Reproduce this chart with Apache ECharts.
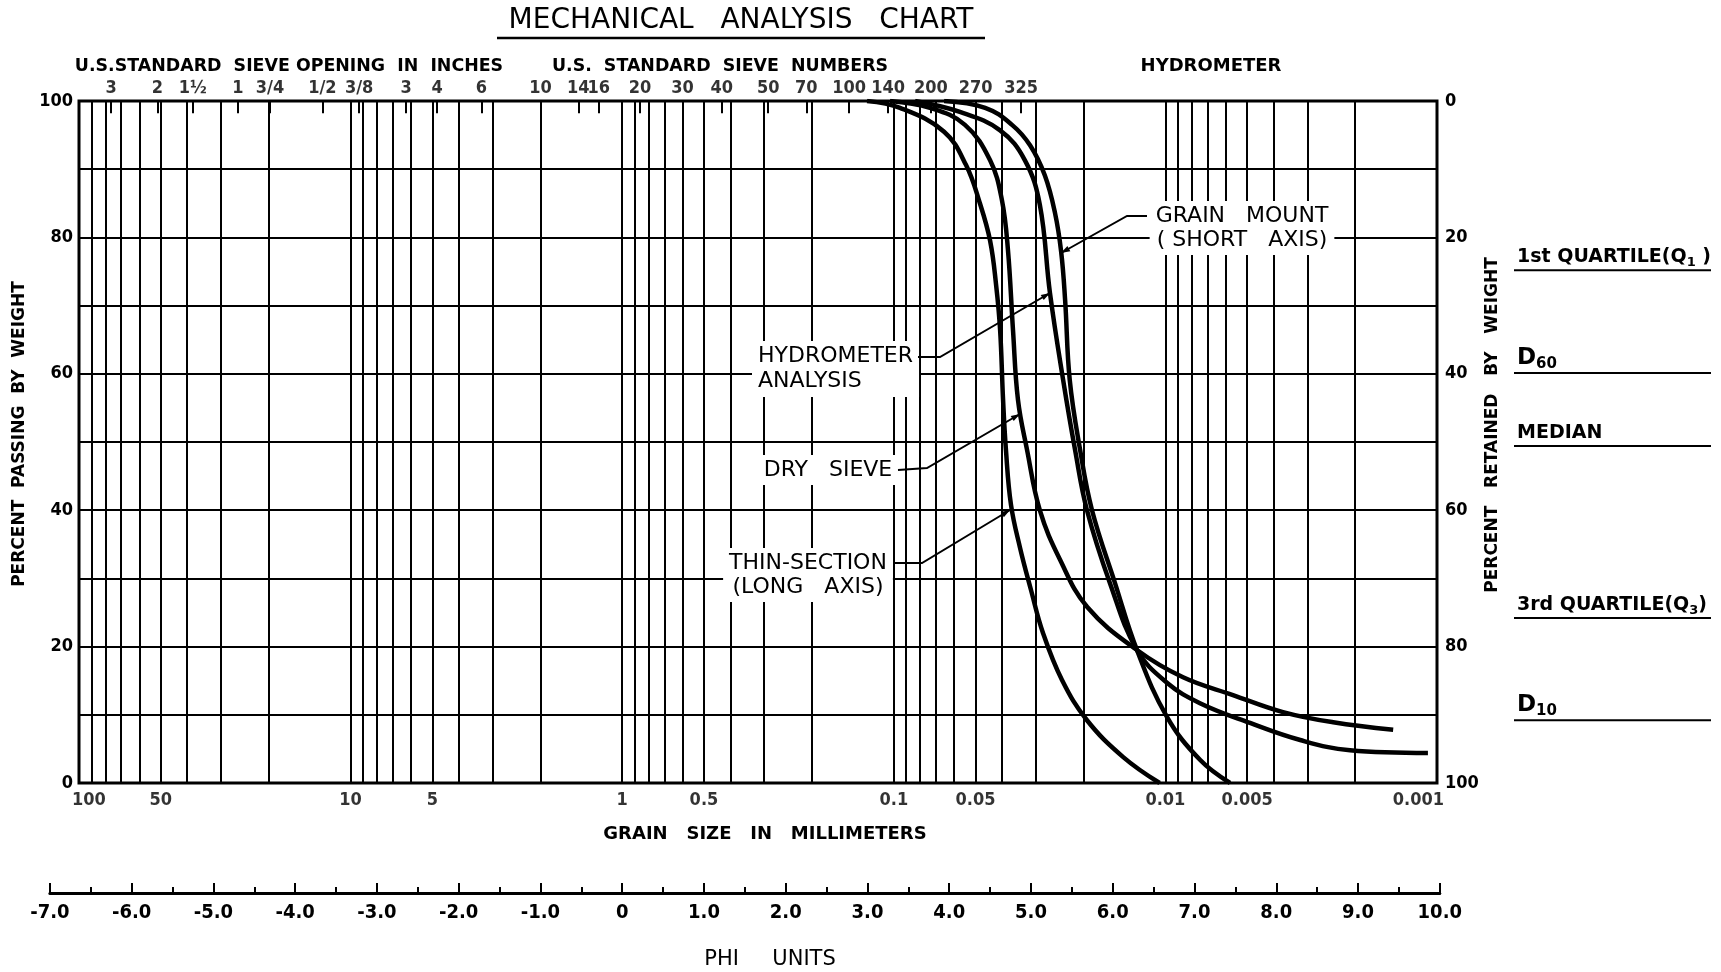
<!DOCTYPE html>
<html>
<head>
<meta charset="utf-8">
<script src="https://cdn.jsdelivr.net/npm/echarts@6/dist/echarts.min.js"></script>
<style>html,body{margin:0;padding:0;background:#fff}#c{width:1721px;height:972px}</style>
</head>
<body>
<div id="c"></div>
<script>
// ---------- data (grain size in mm, percent passing by weight) ----------
const sizeLabelsMm = [100, 50, 10, 5, 1, 0.5, 0.1, 0.05, 0.01, 0.005, 0.001];
const sieveLabels = ['3','2','1½','1','3/4','1/2','3/8','3','4','6','10','14','16','20','30','40','50','70','100','140','200','270','325'];
const sieveMm     = [76.2, 51.5, 38.1, 26, 19.8, 12.7, 9.3, 6.25, 4.8, 3.3, 2.0, 1.45, 1.22, 0.86, 0.6, 0.43, 0.29, 0.21, 0.146, 0.105, 0.073, 0.050, 0.034];
const gridMm = [90,80,70,60,50,40,30,20,10,9,8,7,6,5,4,3,2,1,0.9,0.8,0.7,0.6,0.5,0.4,0.3,0.2,
                0.1,0.09,0.08,0.07,0.06,0.05,0.04,0.03,0.02,0.01,0.009,0.008,0.007,0.006,0.005,0.004,0.003,0.002];
const pctTicks = [0, 20, 40, 60, 80, 100];
const statNames = ['1st QUARTILE(Q{s|1} )', 'D{s|60}', 'MEDIAN', '3rd QUARTILE(Q{s|3})', 'D{s|10}'];
const statRetained = [24.8, 39.9, 50.6, 75.8, 90.8];   // percent retained where each blank line sits

const thinSection = [[0.1255,100],[0.0949,99.0],[0.0653,95.5],[0.0542,90.6],[0.0482,85.0],[0.0442,79.5],
  [0.0420,73.0],[0.0406,66.4],[0.0396,56.2],[0.03864,48.8],[0.03703,40.8],[0.0343,34.5],[0.03125,28.3],
  [0.02823,22.0],[0.02403,15.1],[0.01944,9.2],[0.0143,3.8],[0.0105,0]];
const drySieve = [[0.1033,100],[0.0736,99.0],[0.0547,96.5],[0.0442,91.3],[0.0400,85.5],[0.0380,78.2],
  [0.0364,66.4],[0.0349,56.2],[0.0323,48.8],[0.0290,40.0],[0.0244,32.7],[0.0194,25.8],[0.01273,19.5],
  [0.00861,15.5],[0.00564,12.9],[0.00369,10.4],[0.00241,8.9],[0.00145,7.8]];
const hydrometer = [[0.0835,100],[0.0571,98.4],[0.0406,95.7],[0.0329,91.3],[0.0290,84.8],[0.0266,71.8],
  [0.0238,59.1],[0.0215,48.8],[0.01944,40.0],[0.0160,29.3],[0.01273,19.5],[0.00987,14.7],[0.00746,11.7],
  [0.00488,8.8],[0.00319,6.3],[0.00209,4.8],[0.00108,4.4]];
const grainMount = [[0.0653,100],[0.0461,99.0],[0.0367,96.5],[0.0315,93.5],[0.0278,89.1],[0.0255,83.6],
  [0.0242,77.9],[0.0234,70.8],[0.0225,59.1],[0.0206,48.8],[0.01863,40.0],[0.01533,29.3],[0.01273,19.5],
  [0.00987,9.7],[0.00746,3.4],[0.00578,0]];

// ---------- layout ----------
const W = 1721, H = 972;
const PL = 79, PR = 1437, PT = 101, PB = 783;
const DEC = (PR - PL) / 5;                               // px per decade
const phiX = p => PL + (2 + p * Math.log10(2)) * DEC;   // phi = -log2(mm)
const NUM = '"DejaVu Sans Condensed", "DejaVu Sans", sans-serif';
const WORD = '"DejaVu Sans", sans-serif';

const chart = echarts.init(document.getElementById('c'), null, {width: W, height: H});

function txt(text, x, y, o) {
  return {type: 'text', z: 50, x: x, y: y, rotation: (o && o.rot) || 0,
    style: Object.assign({text: text, x: 0, y: 0, fill: '#000', fontFamily: WORD, fontSize: 17,
      fontWeight: 'bold', align: 'center', textAlign: 'center', verticalAlign: 'middle',
      textVerticalAlign: 'middle'}, o || {})};
}
function seg(x1, y1, x2, y2, w) {
  return {type: 'line', z: 50, shape: {x1, y1, x2, y2}, style: {stroke: '#000', lineWidth: w || 2}};
}
function leader(points) {
  // polyline plus a small arrowhead at the last point
  const a = points[points.length - 2], b = points[points.length - 1];
  const dx = b[0] - a[0], dy = b[1] - a[1], L = Math.hypot(dx, dy), ux = dx / L, uy = dy / L;
  const bx = b[0] - ux * 9, by = b[1] - uy * 9;
  return [
    {type: 'polyline', z: 50, shape: {points}, style: {stroke: '#000', lineWidth: 2, fill: null}},
    {type: 'polygon', z: 50, shape: {points: [b, [bx - uy * 3, by + ux * 3], [bx + uy * 3, by - ux * 3]]},
     style: {fill: '#000'}}
  ];
}
const boxed = {backgroundColor: '#fff', padding: [3, 6], fontWeight: 'normal', fontSize: 22, lineHeight: 24};

const curve = (name, data) => ({
  type: 'line', name, data, xAxisIndex: 0, yAxisIndex: 0, smooth: 0.4, symbol: 'none',
  lineStyle: {color: '#000', width: 4.5}, z: 5, silent: true
});

const option = {
  animation: false,
  backgroundColor: '#fff',
  grid: [
    {left: PL, top: PT, width: PR - PL, height: PB - PT, show: true, borderColor: '#000', borderWidth: 3, backgroundColor: 'transparent'},
    {left: phiX(-7), width: phiX(10) - phiX(-7), top: 892, height: 1}
  ],
  xAxis: [
    {type: 'log', logBase: 10, min: 0.001, max: 100, inverse: true, gridIndex: 0,
     axisLine: {show: false}, axisTick: {show: false}, axisLabel: {show: false}, splitLine: {show: false}},
    {type: 'value', gridIndex: 1, min: -7, max: 10, interval: 1, position: 'bottom',
     axisLine: {show: true, lineStyle: {color: '#000', width: 3}},
     axisTick: {show: true, inside: true, length: 10, lineStyle: {color: '#000', width: 2}},
     minorTick: {show: true, splitNumber: 2, length: 6, lineStyle: {color: '#000', width: 2}},
     splitLine: {show: false},
     axisLabel: {margin: 10, color: '#000', fontFamily: NUM, fontSize: 20, fontWeight: 'bold',
       formatter: v => v === 0 ? '0' : v.toFixed(1)}}
  ],
  yAxis: [
    {type: 'value', gridIndex: 0, min: 0, max: 100, interval: 10, position: 'left',
     axisLine: {show: false}, axisTick: {show: false},
     splitLine: {show: true, lineStyle: {color: '#000', width: 2}},
     axisLabel: {margin: 6, color: '#000', fontFamily: NUM, fontSize: 18, fontWeight: 'bold',
       formatter: v => pctTicks.indexOf(v) >= 0 ? String(v) : ''}},
    {type: 'value', gridIndex: 0, min: 0, max: 100, interval: 20, position: 'right', inverse: true,
     axisLine: {show: false}, axisTick: {show: false}, splitLine: {show: false},
     axisLabel: {margin: 8, color: '#000', fontFamily: NUM, fontSize: 18, fontWeight: 'bold'}},
    {type: 'value', gridIndex: 1, min: 0, max: 1, show: false}
  ],
  series: [
    // vertical grid lines and bottom grain size labels
    {type: 'scatter', xAxisIndex: 0, yAxisIndex: 0, clip: false, silent: true, symbolSize: 1,
     itemStyle: {color: 'rgba(0,0,0,0)'},
     data: sizeLabelsMm.map((d, i) => {
       const it = {value: [d, 0]};
       if (i === 0) it.label = {align: 'left', offset: [-7, 0]};
       if (i === sizeLabelsMm.length - 1) it.label = {align: 'right', offset: [7, 0]};
       return it;
     }),
     label: {show: true, position: 'bottom', distance: 8, color: '#000', fontFamily: NUM,
       fontSize: 18, fontWeight: 'bold', formatter: p => String(p.value[0])},
     markLine: {silent: true, precision: 10, symbol: ['none', 'none'], label: {show: false},
       lineStyle: {color: '#000', width: 2, type: 'solid'},
       data: gridMm.map(v => [{coord: [v, 0]}, {coord: [v, 100]}])}
    },
    // sieve ticks and labels on top
    {type: 'scatter', xAxisIndex: 0, yAxisIndex: 0, clip: false, silent: true, symbolSize: 1,
     itemStyle: {color: 'rgba(0,0,0,0)'},
     data: sieveMm.map((d, i) => ({value: [d, 100], name: sieveLabels[i]})),
     label: {show: true, position: 'top', distance: 3, color: '#000', fontFamily: NUM,
       fontSize: 18, fontWeight: 'bold', formatter: p => p.name},
     markLine: {silent: true, precision: 10, symbol: ['none', 'none'], label: {show: false},
       lineStyle: {color: '#000', width: 2, type: 'solid'},
       data: sieveMm.map(d => [{coord: [d, 100]}, {coord: [d, 98.2]}])}
    },
    curve('Thin-section (long axis)', thinSection),
    curve('Dry sieve', drySieve),
    curve('Hydrometer analysis', hydrometer),
    curve('Grain mount (short axis)', grainMount)
  ]
};
chart.setOption(option);

// statistic blanks on the right, placed on the percent-retained scale
const statGraphics = [];
statRetained.forEach((v, i) => {
  const y = chart.convertToPixel({yAxisIndex: 1}, v);
  const isD = statNames[i].charAt(0) === 'D';
  statGraphics.push(seg(1514, y, 1711, y, 2));
  statGraphics.push(txt(statNames[i], 1517, y - (isD ? 15 : 13), {
    align: 'left', textAlign: 'left', fontSize: isD ? 23 : 19, fontWeight: 'bold', lineHeight: isD ? 26 : 24,
    rich: {s: {fontSize: isD ? 15 : 13, fontWeight: 'bold', fontFamily: WORD, lineHeight: isD ? 14 : 12, verticalAlign: 'bottom'}}
  }));
});

chart.setOption({
  graphic: [
    txt('MECHANICAL   ANALYSIS   CHART', 741, 21, {fontSize: 28, fontWeight: 'normal'}),
    seg(497, 38, 985, 38, 2.5),
    txt('U.S.STANDARD  SIEVE OPENING  IN  INCHES', 289, 66, {fontSize: 17.4}),
    txt('U.S.  STANDARD  SIEVE  NUMBERS', 720, 66, {fontSize: 17.4}),
    txt('HYDROMETER', 1211, 66, {fontSize: 18}),
    txt('GRAIN   SIZE   IN   MILLIMETERS', 765, 834, {fontSize: 18}),
    txt('PHI     UNITS', 770, 960, {fontSize: 21, fontWeight: 'normal'}),
    txt('PERCENT  PASSING  BY  WEIGHT', 20, 434, {rot: Math.PI / 2}),
    txt('PERCENT   RETAINED   BY   WEIGHT', 1493, 425, {rot: Math.PI / 2}),
    // curve annotations
    txt('GRAIN   MOUNT\n( SHORT   AXIS)', 1242, 228, boxed),
    txt('HYDROMETER\nANALYSIS', 752, 369, Object.assign({}, boxed, {align: 'left', textAlign: 'left', lineHeight: 25})),
    txt('DRY   SIEVE', 828, 470, boxed),
    txt('THIN-SECTION\n(LONG   AXIS)', 808, 575, boxed)
  ].concat(
    leader([[1147, 216], [1127, 216], [1061, 253]]),
    leader([[918, 357], [940, 357], [1050, 293]]),
    leader([[898, 470], [927, 468], [1020, 414]]),
    leader([[895, 563], [922, 563], [1010, 510]]),
    statGraphics)
});
</script>
</body>
</html>
